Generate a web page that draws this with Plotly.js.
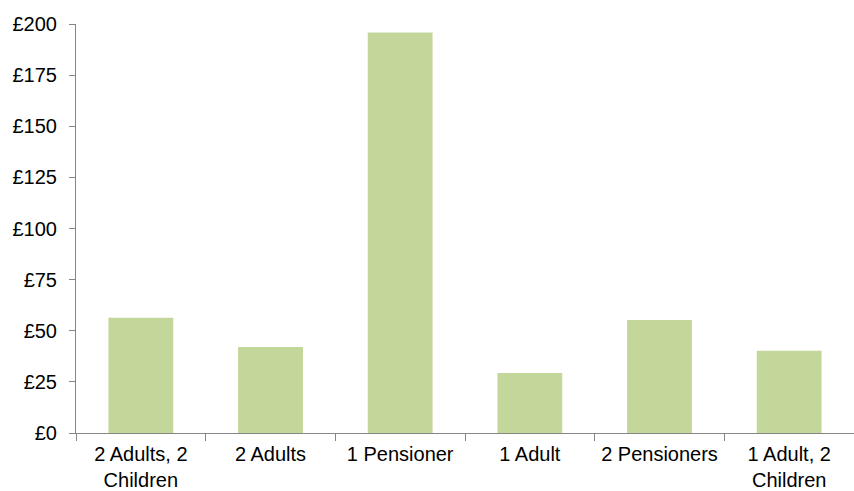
<!DOCTYPE html>
<html>
<head>
<meta charset="utf-8">
<script src="https://cdn.plot.ly/plotly-3.0.1.min.js"></script>
<style>html,body{margin:0;padding:0;background:#fff;}#chart{width:854px;height:491px;}</style>
</head>
<body>
<div id="chart"></div>
<script>
const categories = ["2 Adults, 2<br>Children", "2 Adults", "1 Pensioner", "1 Adult", "2 Pensioners", "1 Adult, 2<br>Children"];
const values = [56.3, 42.1, 195.9, 29.4, 55.3, 40.2];
const yTickVals = [0, 25, 50, 75, 100, 125, 150, 175, 200];
const yTickText = ["£0", "£25", "£50", "£75", "£100", "£125", "£150", "£175", "£200"];

const trace = {
  type: "bar",
  x: categories,
  y: values,
  marker: {color: "#C4D79B"},
  hoverinfo: "none"
};

const layout = {
  width: 854,
  height: 491,
  margin: {l: 76, r: 0, t: 24, b: 58},
  paper_bgcolor: "#ffffff",
  plot_bgcolor: "#ffffff",
  font: {family: "Liberation Sans, Arial, sans-serif", size: 20, color: "#000000"},
  bargap: 0.5,
  showlegend: false,
  xaxis: {
    type: "category",
    showline: true,
    linecolor: "#868686",
    linewidth: 1,
    ticks: "outside",
    tickson: "boundaries",
    ticklen: 7,
    tickcolor: "#868686",
    showgrid: false,
    zeroline: false,
    tickfont: {size: 20, color: "#000000"},
    ticklabelstandoff: 3
  },
  yaxis: {
    range: [0, 200],
    tickvals: yTickVals,
    ticktext: yTickText,
    showline: true,
    linecolor: "#868686",
    linewidth: 1,
    ticks: "outside",
    ticklen: 6,
    tickcolor: "#868686",
    showgrid: false,
    zeroline: false,
    tickfont: {size: 20, color: "#000000"},
    ticklabelstandoff: 8
  }
};

Plotly.newPlot("chart", [trace], layout, {staticPlot: true, displayModeBar: false});
</script>
</body>
</html>
